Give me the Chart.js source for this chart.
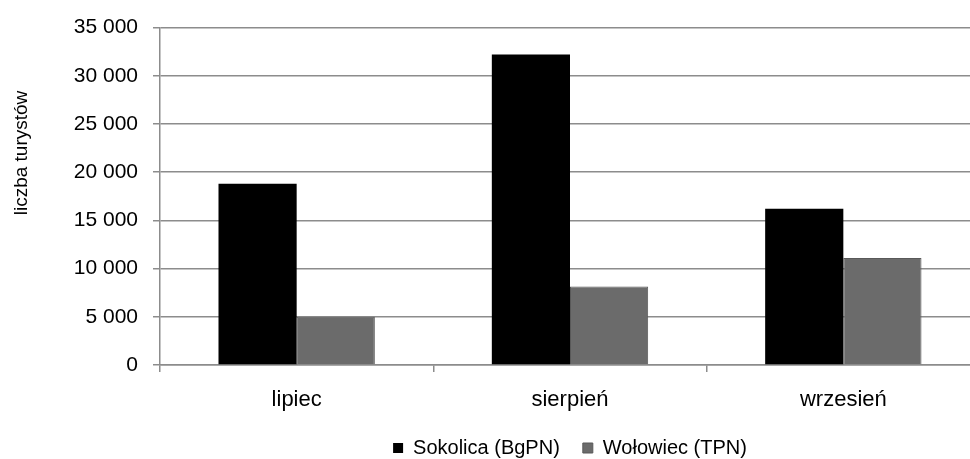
<!DOCTYPE html>
<html lang="pl">
  <head>
    <meta charset="utf-8">
    <title>Liczba turystów</title>
    <script src="https://cdn.jsdelivr.net/npm/chart.js"></script>
    <style>
      html, body { margin: 0; padding: 0; background: #fff; overflow: hidden; }
      #wrap { position: absolute; left: 0; top: 0; width: 990px; height: 459px; }
    </style>
  </head>
  <body>
    <div id="wrap">
      <canvas id="myChart" width="990" height="459"></canvas>
    </div>
    <script>
      // data
      var months = ["lipiec", "sierpień", "wrzesień"];
      var sokolica = [18800, 32200, 16200];
      var wolowiec = [5000, 8150, 11100];
      var seriesNames = ["Sokolica (BgPN)", "Wołowiec (TPN)"];
      var yTitle = "liczba turystów";

      var font = "Arial, 'Liberation Sans', sans-serif";
      var gridColor = "#8c8c8c";

      // y title drawn by hand so it sits where the original puts it
      var yTitlePlugin = {
        id: "yTitle",
        afterDraw: function (chart) {
          var ctx = chart.ctx;
          ctx.save();
          ctx.translate(22, 153);
          ctx.rotate(-Math.PI / 2);
          ctx.font = "19px " + font;
          ctx.fillStyle = "#000";
          ctx.textAlign = "center";
          ctx.textBaseline = "middle";
          ctx.fillText(yTitle, 0, 0);
          ctx.restore();
        }
      };

      function fmt(v) {
        return String(v).replace(/\B(?=(\d{3})+(?!\d))/g, " ");
      }

      var chart = new Chart("myChart", {
        type: "bar",
        data: {
          labels: months,
          datasets: [
            {
              label: seriesNames[0],
              data: sokolica,
              backgroundColor: "#000000",
              borderColor: "#000000",
              borderWidth: 0
            },
            {
              label: seriesNames[1],
              data: wolowiec,
              backgroundColor: "#6b6b6b",
              borderColor: "#595959",
              borderWidth: 1
            }
          ]
        },
        plugins: [yTitlePlugin],
        options: {
          responsive: false,
          animation: false,
          datasets: {
            bar: { categoryPercentage: 0.572, barPercentage: 1.0 }
          },
          layout: { padding: { top: 25, right: 10, bottom: -9, left: 0 } },
          plugins: {
            tooltip: { enabled: false },
            legend: {
              position: "bottom",
              fullSize: false,
              labels: {
                color: "#000",
                font: { family: font, size: 20 },
                boxWidth: 10,
                boxHeight: 10,
                padding: 23
              }
            }
          },
          scales: {
            x: {
              afterFit: function (scale) { scale.height = 50; },
              grid: {
                drawOnChartArea: false,
                color: gridColor,
                lineWidth: 1.5,
                tickLength: 7
              },
              border: { color: gridColor, width: 1.5 },
              ticks: {
                color: "#000",
                font: { family: font, size: 22 },
                padding: 15
              }
            },
            y: {
              min: 0,
              max: 35000,
              afterFit: function (scale) { scale.width = 160; },
              grid: {
                color: gridColor,
                lineWidth: 1.5,
                tickLength: 7
              },
              border: { color: gridColor, width: 1.5 },
              ticks: {
                stepSize: 5000,
                color: "#000",
                font: { family: font, size: 21 },
                padding: 15,
                callback: function (v) { return fmt(v); }
              }
            }
          }
        }
      });
    </script>
  </body>
</html>
